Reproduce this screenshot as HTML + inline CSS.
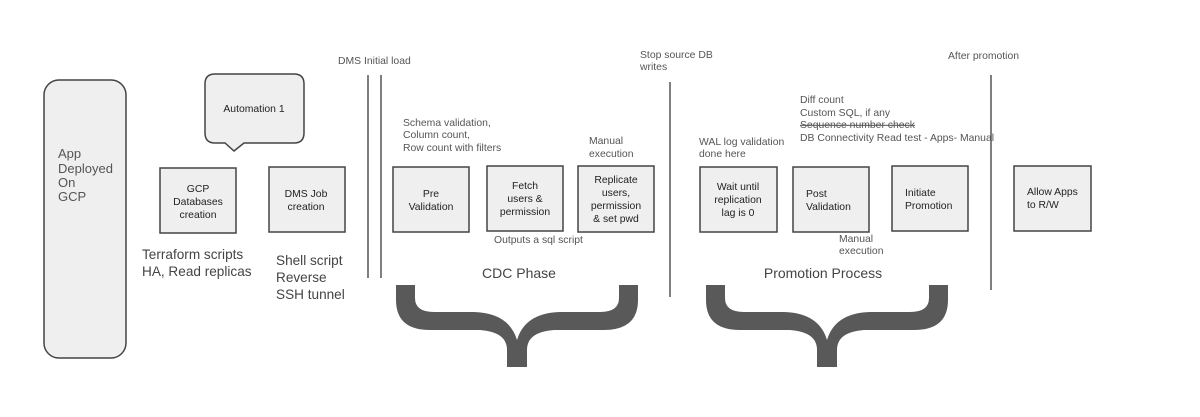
<!DOCTYPE html>
<html><head><meta charset="utf-8"><style>
html,body{margin:0;padding:0;background:#fff}
svg{display:block}
text{font-family:"Liberation Sans",Arial,sans-serif}
.b{fill:#efefef;stroke:#444;stroke-width:1.5}
.t{font-size:10.4px;fill:#222}
.g{font-size:10.4px;fill:#555}
</style></head><body>
<svg width="1200" height="417" viewBox="0 0 1200 417">
<rect x="44" y="80" width="82" height="278" rx="15" class="b"/>
<g font-size="13" fill="#555"><text x="58" y="158">App</text><text x="58" y="173">Deployed</text><text x="58" y="187">On</text><text x="58" y="201">GCP</text></g>

<path d="M215,74 H294 Q304,74 304,84 V133 Q304,143 294,143 H244 L234,151 L225,143 H215 Q205,143 205,133 V84 Q205,74 215,74 Z" class="b"/>
<text x="254" y="112" class="t" text-anchor="middle">Automation 1</text>

<rect x="160" y="168" width="76" height="65" class="b"/>
<g class="t" text-anchor="middle"><text x="198" y="192">GCP</text><text x="198" y="205">Databases</text><text x="198" y="218">creation</text></g>
<rect x="269" y="167" width="76" height="65" class="b"/>
<g class="t" text-anchor="middle"><text x="306" y="197">DMS Job</text><text x="306" y="210">creation</text></g>

<g font-size="13.6" fill="#444"><text x="142" y="259">Terraform scripts</text><text x="142" y="276">HA, Read replicas</text>
<text x="276" y="265">Shell script</text><text x="276" y="282">Reverse</text><text x="276" y="299">SSH tunnel</text></g>

<g stroke="#555" stroke-width="1.5"><line x1="368" y1="75" x2="368" y2="278"/><line x1="381" y1="75" x2="381" y2="278"/>
<line x1="670" y1="82" x2="670" y2="297"/><line x1="991" y1="75" x2="991" y2="290"/></g>
<text x="338" y="64" class="g">DMS Initial load</text>
<text x="640" y="58" class="g">Stop source DB</text><text x="640" y="70" class="g">writes</text>
<text x="948" y="59" class="g">After promotion</text>

<g class="g"><text x="403" y="126">Schema validation,</text><text x="403" y="138">Column count,</text><text x="403" y="151">Row count with filters</text>
<text x="589" y="144">Manual</text><text x="589" y="157">execution</text>
<text x="494" y="243">Outputs a sql script</text>
<text x="699" y="145">WAL log validation</text><text x="699" y="157">done here</text>
<text x="800" y="103">Diff count</text><text x="800" y="116">Custom SQL, if any</text>
<text x="800" y="128" text-decoration="line-through">Sequence number check</text>
<text x="800" y="141">DB Connectivity Read test - Apps- Manual</text>
<text x="839" y="242">Manual</text><text x="839" y="254">execution</text></g>

<rect x="393" y="167" width="76" height="65" class="b"/>
<g class="t" text-anchor="middle"><text x="431" y="197">Pre</text><text x="431" y="210">Validation</text></g>
<rect x="487" y="166" width="76" height="65" class="b"/>
<g class="t" text-anchor="middle"><text x="525" y="189">Fetch</text><text x="525" y="202">users &amp;</text><text x="525" y="215">permission</text></g>
<rect x="578" y="166" width="76" height="66" class="b"/>
<g class="t" text-anchor="middle"><text x="616" y="183">Replicate</text><text x="616" y="196">users,</text><text x="616" y="209">permission</text><text x="616" y="222">&amp; set pwd</text></g>

<rect x="700" y="167" width="77" height="65" class="b"/>
<g class="t" text-anchor="middle"><text x="738" y="190">Wait until</text><text x="738" y="203">replication</text><text x="738" y="216">lag is 0</text></g>
<rect x="793" y="167" width="76" height="65" class="b"/>
<g class="t"><text x="806" y="197">Post</text><text x="806" y="210">Validation</text></g>
<rect x="892" y="166" width="76" height="65" class="b"/>
<g class="t"><text x="905" y="196">Initiate</text><text x="905" y="209">Promotion</text></g>
<rect x="1014" y="166" width="77" height="65" class="b"/>
<g class="t"><text x="1027" y="195">Allow Apps</text><text x="1027" y="208">to R/W</text></g>

<text x="519" y="278" font-size="14" fill="#444" text-anchor="middle">CDC Phase</text>
<text x="823" y="278" font-size="14" fill="#444" text-anchor="middle">Promotion Process</text>

<path d="M396,285 L396,300 Q396,330 430,330 L480,330 Q507,332 507,350 L507,367 L527,367 L527,350 Q527,332 554,330 L604,330 Q638,330 638,300 L638,285 L619,285 L619,298 Q619,312 600,312 L560,312 Q525,313 517,340 Q509,313 474,312 L434,312 Q415,312 415,298 L415,285 Z" fill="#595959"/>
<path d="M396,285 L396,300 Q396,330 430,330 L480,330 Q507,332 507,350 L507,367 L527,367 L527,350 Q527,332 554,330 L604,330 Q638,330 638,300 L638,285 L619,285 L619,298 Q619,312 600,312 L560,312 Q525,313 517,340 Q509,313 474,312 L434,312 Q415,312 415,298 L415,285 Z" fill="#595959" transform="translate(310,0)"/>
</svg>
</body></html>
